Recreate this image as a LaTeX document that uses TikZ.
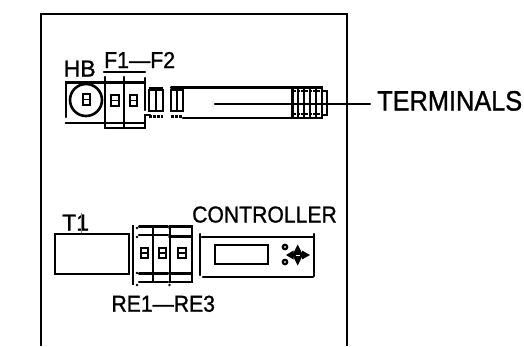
\documentclass[tikz,border=0pt]{standalone}
\usepackage{fontspec}
\setmainfont[RawFeature={embolden=1.2}]{Liberation Sans}
\tikzset{
  thick line/.style={line width=2.2pt,line cap=round},
  label text/.style={inner sep=0pt,anchor=base west,font=\fontsize{23}{23}\selectfont},
  big text/.style={inner sep=0pt,anchor=base west,font=\fontsize{28}{28}\selectfont},
  tiny box/.style={line width=2.2pt,draw},
  dash row/.style={line width=2.4pt,dash pattern=on 3pt off 1pt},
}
\newcommand{\smallsq}[2]{%
  \draw[tiny box] (#1-3.7,#2-5.2) rectangle (#1+3.7,#2+5.2);
  \draw[line width=1.8pt] (#1-3.7,#2) -- (#1+3.7,#2);}
\begin{document}
\begin{tikzpicture}[x=1pt,y=-1pt]
\useasboundingbox (0,0) rectangle (524,346);
\fill[white] (0,0) rectangle (524,346);
% panel
\coordinate (pbl) at (40.7,346);
\coordinate (ptl) at (40.7,14);
\coordinate (ptr) at (346.7,14);
\coordinate (pbr) at (346.7,346);
\draw[line width=2.4pt] (pbl) -- (ptl) -- (ptr) -- (pbr);
% labels
\node[label text] (hb) at (63.5,76.5) {HB};
\node[label text] (f) at (104,68) {\scalebox{0.925}[1]{F1—F2}};
\node[big text] (term) at (377,110.5) {\scalebox{0.905}[1]{TERMINALS}};
\node[label text] (t1) at (62,230.5) {T1};
\node[label text] (ctrl) at (192,222.5) {\scalebox{0.92}[1]{CONTROLLER}};
\node[label text] (re) at (111.3,311.7) {\scalebox{0.92}[1]{RE1—RE3}};
% HB
\draw[thick line] (65.7,117) -- (65.7,82.5) -- (145,82.5);
\draw[thick line] (65.7,122.7) -- (145,122.7);
\draw[thick line] (105,127.7) -- (145,127.7);
\draw[thick line] (104,71.7) -- (145,71.7);
\foreach \x in {105,124} \draw[thick line] (\x,77) -- (\x,128);
\draw[thick line] (145,78) -- (145,110);
\draw[line width=2.6pt] (86,100) circle (16);
\smallsq{86.5}{99.5}
\smallsq{115}{100.5}
\smallsq{133.3}{100.5}
% rail
\draw[thick line] (145,128) -- (145,115) -- (150,115);
\draw[thick line] (171,87.5) -- (293,87.5);
\draw[thick line] (183,117.7) -- (293,117.7);
% terminal blocks
\foreach \a/\b in {148.5/163,171/183}{
  \draw[line width=3pt] (\a,88.5) -- (\b,88.5);
  \draw[line width=2pt] (\a,90) rectangle (\b,110.5);
  \draw[line width=2pt] ({(\a+\b)/2},90) -- ({(\a+\b)/2},110.5);
  \draw[dash row] (\a,116.5) -- (\b,116.5);
}
% right block
\draw[thick line] (292.5,87.5) -- (322,87.5) -- (322,117.7) -- (292.5,117.7) -- cycle;
\foreach \x in {298.4,304.3,310.2,316.1} \draw[line width=2pt] (\x,88) -- (\x,118);
\draw[dash row] (292.5,91) -- (322,91);
\draw[dash row] (292.5,114) -- (322,114);
\draw[line width=1.8pt] (322,91) -- (327,91) -- (327,115) -- (322,115);
\coordinate (ls) at (215,103.7);
\coordinate (le) at (370,103.7);
\draw[thick line] (ls) -- (le);
% T1
\draw[thick line] (55,234) rectangle (129,274);
\draw[line width=.5pt,gray] (81,213) -- (81,233);
% relays
\draw[line width=2.6pt] (133,225) -- (133,285);
\draw[thick line] (139,226.5) -- (168,226.5);
\draw[thick line] (139,235) -- (168,235);
\draw[thick line] (139,273.5) -- (168,273.5);
\draw[thick line] (139,282) -- (168,282);
\draw[thick line] (153,226.5) -- (153,282);
\draw[thick line] (170,226.5) rectangle (191.7,282);
\draw[thick line] (170,236.5) -- (191.7,236.5);
\draw[thick line] (170,273.5) -- (191.7,273.5);
\foreach \x in {137,169.5} \foreach \y in {228,237,273,285} \fill (\x,\y) circle (1.3);
\smallsq{144.3}{253}
\smallsq{162.5}{253}
\smallsq{182}{253}
% controller
\draw[thick line] (200,234) -- (200,275);
\draw[thick line] (314,234) -- (314,276);
\draw[thick line] (202,237) -- (313,237);
\draw[thick line] (203,276.7) -- (313,276.7);
\draw[thick line] (215,245) rectangle (268,264);
\draw[line width=2.2pt] (285,247) circle (2.2);
\draw[line width=2.2pt] (285,262) circle (2.2);
\fill (297.7,244.5) -- (303,255) -- (297.7,265.5) -- (292.4,255) -- cycle;
\fill (302,250.5) -- (310,255) -- (302,259.5) -- cycle;
\fill (293.5,250.5) -- (286,255) -- (293.5,259.5) -- cycle;
\draw[white,line width=.8pt] (295.7,255) -- (299.7,255);
\end{tikzpicture}
\end{document}
